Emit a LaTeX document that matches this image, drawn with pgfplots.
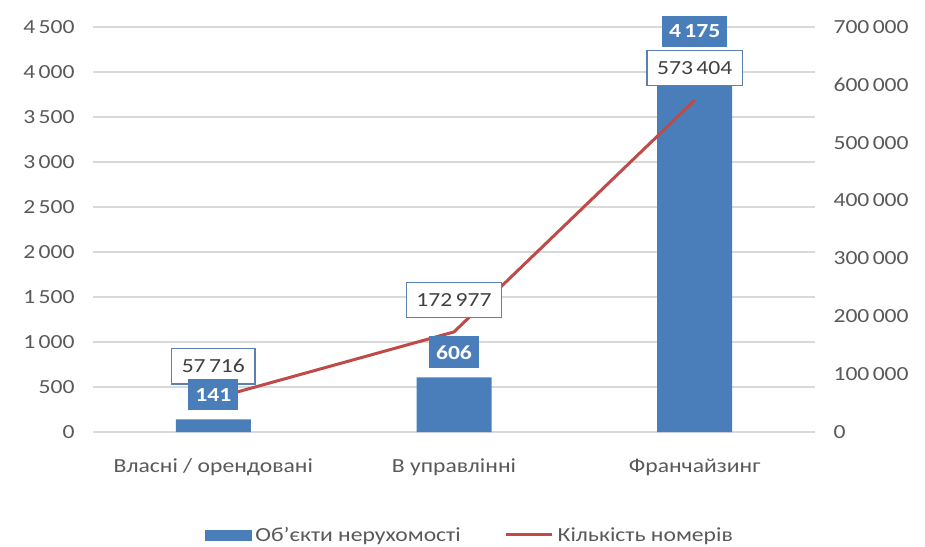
\documentclass[border=0pt]{standalone}
\usepackage{pgfplots}
\pgfplotsset{compat=1.18}
\usepackage{fontspec}
\setmainfont[FakeStretch=1.18]{Carlito}
\definecolor{barblue}{HTML}{4A7EBB}
\definecolor{linered}{HTML}{BE4B48}
\definecolor{txtgray}{HTML}{595959}
\definecolor{gridgray}{HTML}{D9D9D9}
\definecolor{boxborder}{HTML}{5A80B5}
\pgfplotsset{
  common/.style={
    at={(0,0)}, anchor=south west, scale only axis,
    width=722pt, height=405pt,
    xmin=-0.5, xmax=2.5,
    axis line style={draw=none}, major tick style={draw=none},
    tick label style={text=txtgray},
    /pgf/number format/1000 sep={\,},
    /pgf/number format/fixed,
    /pgf/number format/precision=0,
    /pgf/number format/assume math mode=true,
  }
}
\begin{document}
\begin{tikzpicture}[font=\fontsize{20}{23}\selectfont]
\path[use as bounding box] (-93pt,-114pt) rectangle (832pt,432pt);
% left axis: grid and bars
\begin{axis}[common,
  ymin=0, ymax=4500, ytick={0,500,...,4500},
  ymajorgrids, grid style={gridgray, line width=1.2pt},
  xtick={0,1,2},
  xticklabels={Власні / орендовані, В управлінні, Франчайзинг},
  xticklabel style={yshift=-23pt},
  yticklabel style={xshift=-15pt},
]
\addplot[ybar, bar width=75pt, fill=barblue, draw=none] coordinates {(0,141) (1,606) (2,4175)};
\end{axis}
% right axis: line
\begin{axis}[common,
  ymin=0, ymax=700000, ytick={0,100000,...,700000},
  scaled y ticks=false,
  axis x line=none, axis y line*=right,
  yticklabel style={anchor=west, xshift=15pt},
  legend style={at={(axis description cs:0.5235,-0.254)}, anchor=center,
    draw=none, fill=none, legend columns=2, text=txtgray,
    nodes={inner xsep=4pt},
    /tikz/every even column/.append style={column sep=40pt}},
]
\addlegendimage{legend image code/.code={\fill[barblue] (0pt,-5pt) rectangle (46pt,5pt);}}
\addlegendentry{Об'єкти нерухомості}
\addplot[linered, line width=3pt, nodes near coords,
  every node near coord/.append style={anchor=south, yshift=14pt, fill=white,
    draw=boxborder, line width=1.3pt, text=black!75, inner xsep=10pt, inner ysep=11pt},
  legend image code/.code={\draw[linered, line width=3pt] (0pt,0pt) -- (46pt,0pt);}]
  coordinates {(0,57716) (1,172977) (2,573404)};
\addlegendentry{Кількість номерів}
\end{axis}
% bar labels on top
\begin{axis}[common,
  ymin=0, ymax=4500, axis x line=none, axis y line=none,
]
\addplot[ybar, bar width=75pt, draw=none, fill=none, nodes near coords,
  every node near coord/.append style={anchor=south, yshift=9pt, fill=barblue,
    text=white, font=\fontsize{20}{23}\selectfont\bfseries, inner xsep=7pt, inner ysep=9pt}]
  coordinates {(0,141) (1,606) (2,4175)};
\end{axis}
\end{tikzpicture}
\end{document}
